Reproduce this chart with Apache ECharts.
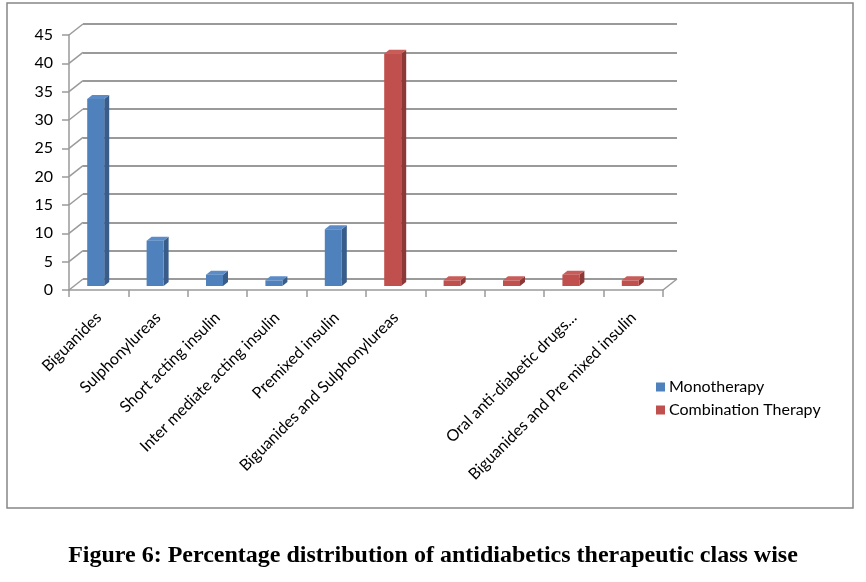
<!DOCTYPE html>
<html>
<head>
<meta charset="utf-8">
<title>Figure 6</title>
<script src="https://cdn.jsdelivr.net/npm/echarts@6/dist/echarts.min.js"></script>
<style>
    html, body { margin: 0; padding: 0; background: #fff; }
    #chart { width: 866px; height: 582px; }
</style>
</head>
<body>
<div id="chart"></div>
<script>
// Chart data
const categories = [
    'Biguanides',
    'Sulphonylureas',
    'Short acting insulin',
    'Inter mediate acting insulin',
    'Premixed insulin',
    'Biguanides and Sulphonylureas',
    '',
    '',
    'Oral anti-diabetic drugs...',
    'Biguanides and Pre mixed insulin'
];
const monotherapy = [33, 8, 2, 1, 10, null, null, null, null, null];
const combination = [null, null, null, null, null, 41, 1, 1, 2, 1];
const yTicks = [0, 5, 10, 15, 20, 25, 30, 35, 40, 45];

// 3D look: back wall offset and bar depth (pixels)
const wallDx = 14, wallDy = 11;
const barDx = 5, barDy = 4;
const gridColor = '#9a9a9a';
const font = 'Lato';

const blue = { front: '#4F81BD', top: '#5B8CC8', side: '#385D8A' };
const red = { front: '#C0504D', top: '#C85C59', side: '#8C3836' };

function toPairs(values) {
    const out = [];
    values.forEach((v, i) => {
        if (v !== null) out.push([i, v]);
    });
    return out;
}

// Draw a bar as a little box: front face, top and right side
function boxRenderer(colors) {
    return function (params, api) {
        const idx = api.value(0);
        const top = api.coord([idx, api.value(1)]);
        const base = api.coord([idx, 0]);
        const x0 = top[0] - 11.5, x1 = top[0] + 5.5;
        const yT = top[1] - barDy, yB = base[1] - barDy;
        return {
            type: 'group',
            children: [
                {
                    type: 'polygon',
                    shape: { points: [[x1, yB], [x1 + barDx, yB - barDy], [x1 + barDx, yT - barDy], [x1, yT]] },
                    style: { fill: colors.side }
                },
                {
                    type: 'polygon',
                    shape: { points: [[x0, yT], [x1, yT], [x1 + barDx, yT - barDy], [x0 + barDx, yT - barDy]] },
                    style: { fill: colors.top }
                },
                {
                    type: 'rect',
                    shape: { x: x0, y: yT, width: x1 - x0, height: yB - yT },
                    style: { fill: colors.front }
                }
            ]
        };
    };
}

// Left wall diagonals at every tick, plus the right edge of the floor
function wallRenderer(params, api) {
    const cs = params.coordSys;
    const y = api.coord([0, api.value(1)])[1];
    const children = [{
        type: 'line',
        shape: { x1: cs.x, y1: y, x2: cs.x + wallDx, y2: y - wallDy },
        style: { stroke: gridColor, lineWidth: 1.5 }
    }];
    if (api.value(1) === 0) {
        const xr = cs.x + cs.width;
        children.push({
            type: 'line',
            shape: { x1: xr, y1: y, x2: xr + wallDx, y2: y - wallDy },
            style: { stroke: gridColor, lineWidth: 1.5 }
        });
    }
    return { type: 'group', children: children };
}

const chart = echarts.init(document.getElementById('chart'));

const option = {
    animation: false,
    title: {
        text: 'Figure 6: Percentage distribution of antidiabetics therapeutic class wise',
        left: 'center',
        top: 539,
        textStyle: {
            fontFamily: 'Liberation Serif',
            fontWeight: 'bold',
            fontSize: 24,
            color: '#000'
        }
    },
    legend: {
        orient: 'vertical',
        left: 651,
        top: 374,
        itemWidth: 9,
        itemHeight: 9,
        itemGap: 7,
        icon: 'rect',
        data: ['Monotherapy', 'Combination Therapy'],
        textStyle: { fontFamily: font, fontSize: 16, color: '#000', padding: [0, 0, 0, -1] }
    },
    graphic: [{
        type: 'rect',
        shape: { x: 7, y: 3, width: 846, height: 505 },
        style: { fill: 'none', stroke: '#868686', lineWidth: 1.5 },
        silent: true
    }],
    grid: [
        // front plane
        { left: 69, top: 35, width: 594, height: 255 },
        // back wall
        { left: 69 + wallDx, top: 35 - wallDy, width: 594, height: 255 }
    ],
    xAxis: [
        {
            type: 'category',
            gridIndex: 0,
            data: categories,
            axisLine: { lineStyle: { color: gridColor, width: 1.5 } },
            axisTick: { show: true, length: 7, lineStyle: { color: gridColor, width: 1.5 } },
            axisLabel: {
                interval: 0,
                rotate: 45,
                margin: 25,
                fontFamily: font,
                fontSize: 16,
                color: '#000'
            }
        },
        {
            type: 'category',
            gridIndex: 1,
            data: categories,
            show: false
        }
    ],
    yAxis: [
        {
            type: 'value',
            gridIndex: 0,
            min: 0,
            max: 45,
            interval: 5,
            axisLine: { show: true, lineStyle: { color: gridColor, width: 1.5 } },
            axisTick: { show: true, length: 7, lineStyle: { color: gridColor, width: 1.5 } },
            splitLine: { show: false },
            axisLabel: {
                margin: 16,
                fontFamily: font,
                fontSize: 16,
                color: '#000'
            }
        },
        {
            type: 'value',
            gridIndex: 1,
            min: 0,
            max: 45,
            interval: 5,
            axisLine: { show: false },
            axisTick: { show: false },
            axisLabel: { show: false },
            splitLine: { show: true, lineStyle: { color: gridColor, width: 2 } }
        }
    ],
    series: [
        {
            type: 'custom',
            name: 'walls',
            xAxisIndex: 0,
            yAxisIndex: 0,
            silent: true,
            renderItem: wallRenderer,
            data: yTicks.map(v => [0, v]),
            encode: { x: 0, y: 1 },
            z: 1
        },
        {
            type: 'custom',
            name: 'Monotherapy',
            xAxisIndex: 0,
            yAxisIndex: 0,
            itemStyle: { color: blue.front },
            renderItem: boxRenderer(blue),
            data: toPairs(monotherapy),
            encode: { x: 0, y: 1 },
            z: 3
        },
        {
            type: 'custom',
            name: 'Combination Therapy',
            xAxisIndex: 0,
            yAxisIndex: 0,
            itemStyle: { color: red.front },
            renderItem: boxRenderer(red),
            data: toPairs(combination),
            encode: { x: 0, y: 1 },
            z: 3
        }
    ]
};

chart.setOption(option);
</script>
</body>
</html>
